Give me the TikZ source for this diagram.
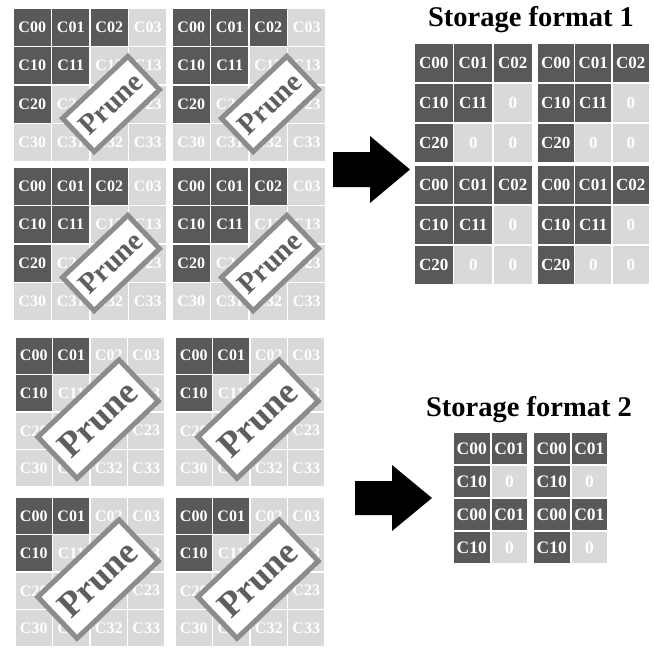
\documentclass[tikz,border=0pt]{standalone}
\usepackage{fontspec}
\setmainfont{Liberation Serif}
\definecolor{darkc}{HTML}{595959}
\definecolor{lightc}{HTML}{D9D9D9}
\definecolor{prunebd}{HTML}{8C8C8C}
\definecolor{prunetx}{HTML}{5E5E5E}
\newcommand\cellfont{\bfseries\fontsize{16}{16}\selectfont}
\tikzset{
  cellbase/.style={inner sep=0pt, text=white, font=\cellfont},
  prune/.style={draw=prunebd, line width=5pt, fill=white, text=prunetx, inner sep=0pt,
    rotate=43.5, font=\bfseries\fontsize{#1}{#1}\selectfont},
  title/.style={anchor=base, font=\bfseries\fontsize{28.5}{30}\selectfont},
  blockarrow/.style={fill=black}
}
% #1 name, #2 x0, #3 y0, #4 cell w, #5 cell h, #6 cols, #7 rows, #8 dark threshold, #9 light label mode (1 = "0")
\newcommand\drawmat[9]{%
  \pgfmathtruncatemacro\lastr{#7-1}%
  \pgfmathtruncatemacro\lastc{#6-1}%
  \foreach \r in {0,...,\lastr}{%
    \foreach \c in {0,...,\lastc}{%
      \pgfmathtruncatemacro\s{\r+\c}%
      \ifnum\s>#8\relax
        \ifnum#9=1 \def\lbl{0}\else\def\lbl{C\r\c}\fi
        \node[cellbase, fill=lightc, minimum width=#4pt-1.8pt, minimum height=#5pt-1.8pt]
          (#1-\r\c) at ({#2+(\c+0.5)*#4},{#3+(\r+0.5)*#5}) {\lbl};
      \else
        \node[cellbase, fill=darkc, minimum width=#4pt-1.8pt, minimum height=#5pt-1.8pt]
          (#1-\r\c) at ({#2+(\c+0.5)*#4},{#3+(\r+0.5)*#5}) {C\r\c};
      \fi
    }%
  }%
}
\begin{document}
\begin{tikzpicture}[x=1pt, y=-1pt]
\useasboundingbox (0,0) rectangle (654,649);

% ---- top-left block
\drawmat{ta}{13}{8}{38.5}{38.5}{4}{4}{2}{0}
\drawmat{tb}{172}{8}{38.5}{38.5}{4}{4}{2}{0}
\drawmat{tc}{13}{167}{38.5}{38.5}{4}{4}{2}{0}
\drawmat{td}{172}{167}{38.5}{38.5}{4}{4}{2}{0}
\node[prune=29, minimum width=90pt, minimum height=46pt] (pta) at (111,104) {Prune};
\node[prune=29, minimum width=90pt, minimum height=46pt] (ptb) at (270,104) {Prune};
\node[prune=29, minimum width=90pt, minimum height=46pt] (ptc) at (111,263) {Prune};
\node[prune=29, minimum width=90pt, minimum height=46pt] (ptd) at (270,263) {Prune};

% ---- bottom-left block
\drawmat{ba}{15}{337}{37.5}{37.5}{4}{4}{1}{0}
\drawmat{bb}{175}{337}{37.5}{37.5}{4}{4}{1}{0}
\drawmat{bc}{15}{497}{37.5}{37.5}{4}{4}{1}{0}
\drawmat{bd}{175}{497}{37.5}{37.5}{4}{4}{1}{0}
\node[prune=36, minimum width=112pt, minimum height=57pt] (pba) at (98,419) {Prune};
\node[prune=36, minimum width=112pt, minimum height=57pt] (pbb) at (258,419) {Prune};
\node[prune=36, minimum width=112pt, minimum height=57pt] (pbc) at (98,579) {Prune};
\node[prune=36, minimum width=112pt, minimum height=57pt] (pbd) at (258,579) {Prune};

% ---- arrows
\fill[blockarrow] (333,152) -- (370,152) -- (370,136) -- (410,169.5) -- (370,203) -- (370,187) -- (333,187) -- cycle;
\fill[blockarrow] (355,481) -- (392,481) -- (392,465) -- (432,498) -- (392,531) -- (392,515) -- (355,515) -- cycle;

% ---- storage format 1
\node[title] (t1) at (531,26) {Storage format 1};
\begin{scope}
\renewcommand\cellfont{\bfseries\fontsize{17}{17}\selectfont}
\drawmat{sa}{414}{43}{39.5}{40}{3}{3}{2}{1}
\drawmat{sb}{537}{43}{37.5}{40}{3}{3}{2}{1}
\drawmat{sc}{414}{165}{39.5}{40}{3}{3}{2}{1}
\drawmat{sd}{537}{165}{37.5}{40}{3}{3}{2}{1}
\end{scope}

% ---- storage format 2
\node[title] (t2) at (529,416) {Storage format 2};
\begin{scope}
\renewcommand\cellfont{\bfseries\fontsize{17.5}{17.5}\selectfont}
\drawmat{ua}{453}{432}{37.6}{33}{2}{2}{1}{1}
\drawmat{ub}{533}{432}{37.6}{33}{2}{2}{1}{1}
\drawmat{uc}{453}{498}{37.6}{33}{2}{2}{1}{1}
\drawmat{ud}{533}{498}{37.6}{33}{2}{2}{1}{1}
\end{scope}
\end{tikzpicture}
\end{document}
